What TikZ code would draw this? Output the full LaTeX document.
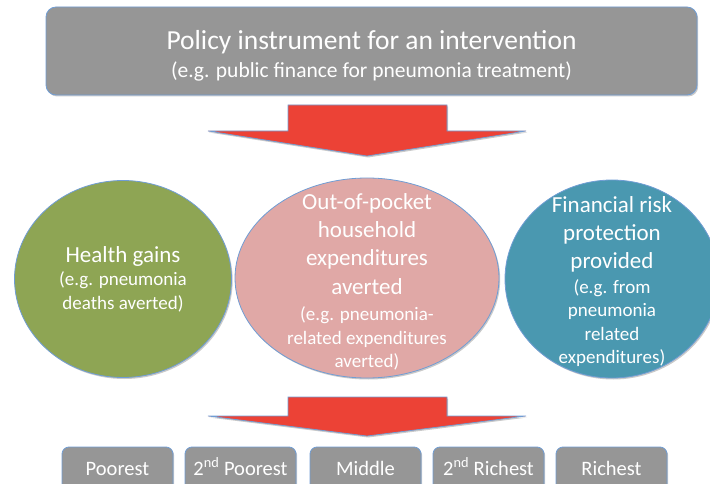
\documentclass[tikz,border=0pt]{standalone}
\usepackage{fontspec}
\setmainfont{Carlito}
\usepackage{xcolor}
\usetikzlibrary{shapes}
\usetikzlibrary{shadows}
\usetikzlibrary{positioning}

\definecolor{boxgrey}{RGB}{150,150,150}
\definecolor{rimblue}{RGB}{112,157,212}
\definecolor{gainsgreen}{RGB}{142,165,84}
\definecolor{ooppink}{RGB}{224,168,166}
\definecolor{riskblue}{RGB}{74,152,176}
\definecolor{arrowred}{RGB}{236,66,54}

\tikzset{
  softshadow/.style={drop shadow={shadow xshift=1.2pt, shadow yshift=-1.5pt, opacity=0.35, fill=black!60}},
  panel/.style={rectangle, rounded corners=10pt, draw=rimblue, line width=0.8pt,
    fill=boxgrey, text=white, align=center, softshadow},
  blob/.style={ellipse, draw=rimblue, line width=0.8pt, inner sep=0pt, softshadow},
  blobtext/.style={text=white, align=center, font=\fontsize{19}{23.5}\selectfont},
  bigarrow/.style={fill=arrowred, draw=rimblue, line width=0.7pt, softshadow}
}

\newcommand{\ttl}[1]{{\fontsize{23}{28}\selectfont #1}}

\begin{document}
\begin{tikzpicture}[x=1pt, y=-1pt]
  \useasboundingbox (0,0) rectangle (710,484);

  % policy instrument at the top
  \node[panel, minimum width=651pt, minimum height=88pt] (policy) at (371.5,51) {};
  \node[text=white, align=center, font=\fontsize{21.5}{28}\selectfont] (policytext) at (371.5,56)
    {{\fontsize{27.5}{28}\selectfont Policy instrument for an intervention}\\
     (e.g. public finance for pneumonia treatment)};

  % first block arrow
  \draw[bigarrow] (288,105) -- (447,105) -- (447,131) -- (526,131) -- (367,156)
    -- (208,131) -- (288,131) -- cycle;

  % the three outcomes
  \node[blob, fill=gainsgreen, minimum width=217pt, minimum height=197pt] (gains) at (123,279) {};
  \node[blob, fill=ooppink, minimum width=264pt, minimum height=200pt] (oop) at (367,278) {};
  \node[blob, fill=riskblue, minimum width=214pt, minimum height=198pt] (frp) at (612,279) {};

  \node[blobtext] (gainstext) at (gains.center)
    {\ttl{Health gains}\\ (e.g. pneumonia\\ deaths averted)};
  \node[blobtext] (ooptext) at (367,282)
    {\ttl{Out-of-pocket}\\[4pt] \ttl{household}\\[5pt] \ttl{expenditures}\\[5pt] \ttl{averted}\\[3pt]
     (e.g. pneumonia-\\ related expenditures\\ averted)};
  \node[blobtext] (frptext) at (612,282)
    {\ttl{Financial risk}\\[4pt] \ttl{protection}\\[5pt] \ttl{provided}\\[1pt]
     (e.g. from\\ pneumonia\\ related\\ expenditures)};

  % second block arrow
  \draw[bigarrow] (288,397) -- (447,397) -- (447,416) -- (526,416) -- (367,436)
    -- (208,416) -- (288,416) -- cycle;

  % income quintiles
  \foreach \i/\x/\lbl in {1/117.5/Poorest, 2/240.5/{2\textsuperscript{nd} Poorest},
      3/365.5/Middle, 4/488.5/{2\textsuperscript{nd} Richest}, 5/611.5/Richest} {
    \node[panel, rounded corners=7pt, minimum width=111pt, minimum height=46pt,
      text height=14pt, text depth=4pt, font=\fontsize{20.5}{23}\selectfont] (Q\i) at (\x,470) {\lbl};
  }

\end{tikzpicture}
\end{document}
